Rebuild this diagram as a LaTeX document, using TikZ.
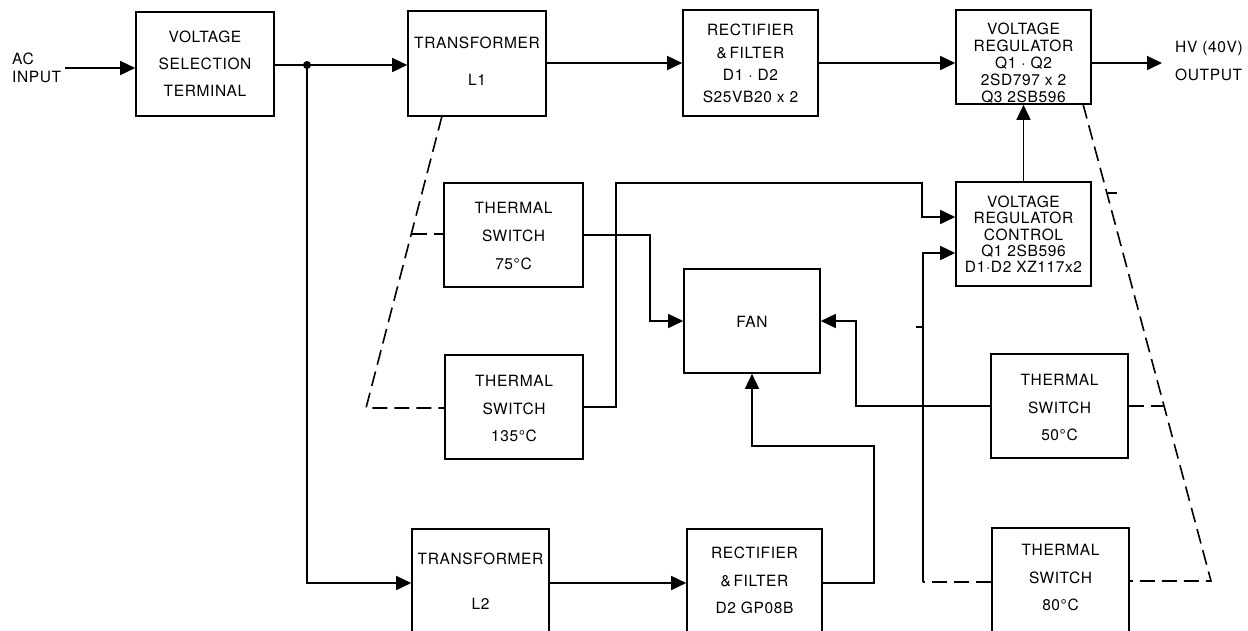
\documentclass[tikz,border=0pt]{standalone}
\usepackage{fontspec}
\setmainfont{TeX Gyre Heros}[LetterSpace=4]
\usetikzlibrary{arrows.meta}
\begin{document}
\begin{tikzpicture}[x=1pt,y=-1pt,
  box/.style={draw,line width=1.6pt,inner sep=0pt},
  txt/.style={align=center,inner sep=0pt},
  ln/.style={line width=1.6pt},
  arr/.style={line width=1.6pt,-{Triangle[length=15pt,width=14pt]}},
  dsh/.style={line width=1.6pt,dash pattern=on 15pt off 7pt},
  tick/.style={line width=2.6pt}]
\useasboundingbox (0,0) rectangle (1248,630);
\clip (0,0) rectangle (1248,630);
\newcommand{\fs}[1]{\fontsize{15.5}{#1}\selectfont}
% boxes
\node[box,minimum width=138,minimum height=104] (vst) at (205,64) {};
\node[box,minimum width=138,minimum height=105] (t1) at (477,63.5) {};
\node[box,minimum width=135,minimum height=106] (r1) at (750.5,63) {};
\node[box,minimum width=135,minimum height=94] (vr) at (1023.5,57) {};
\node[box,minimum width=135,minimum height=104] (vrc) at (1023.5,234) {};
\node[box,minimum width=139,minimum height=104] (ts75) at (513.5,235) {};
\node[box,minimum width=138,minimum height=104] (ts135) at (514,407) {};
\node[box,minimum width=136,minimum height=104] (fan) at (752,321) {};
\node[box,minimum width=137,minimum height=104] (ts50) at (1059.5,406) {};
\node[box,minimum width=137,minimum height=108] (ts80) at (1060.5,582) {};
\node[box,minimum width=137,minimum height=108] (t2) at (480.5,583) {};
\node[box,minimum width=135,minimum height=108] (r2) at (754.5,583) {};
% texts
\node[txt,font=\fs{27}] (vstt) at (205,64) {VOLTAGE\\SELECTION\\TERMINAL};
\node[txt,font=\fs{37}] (t1t) at (477,61.5) {TRANSFORMER\\L1};
\node[txt,font=\fs{22.3}] (r1t) at (750.5,63.7) {RECTIFIER\\\&\,FILTER\\D1 · D2\\S25VB20 x 2};
\node[txt,font=\fs{17}] (vrt) at (1023.5,63) {VOLTAGE\\REGULATOR\\Q1 · Q2\\2SD797 x 2\\Q3 2SB596};
\node[txt,font=\fs{16.3}] (vrct) at (1023.5,234.5) {VOLTAGE\\REGULATOR\\CONTROL\\Q1 2SB596\\D1·D2 XZ117x2};
\node[txt,font=\fs{28}] (ts75t) at (513.5,236) {THERMAL\\SWITCH\\75°C};
\node[txt,font=\fs{27.5}] (ts135t) at (514,408.5) {THERMAL\\SWITCH\\135°C};
\node[txt,font=\fs{20}] (fant) at (752,322) {FAN};
\node[txt,font=\fs{27.5}] (ts50t) at (1059.5,407.5) {THERMAL\\SWITCH\\50°C};
\node[txt,font=\fs{27.5}] (ts80t) at (1060.5,577.5) {THERMAL\\SWITCH\\80°C};
\node[txt,font=\fs{45}] (t2t) at (480.5,581.5) {TRANSFORMER\\L2};
\node[txt,font=\fs{27.5}] (r2t) at (754.5,580.5) {RECTIFIER\\\&\,FILTER\\D2 GP08B};
\node[txt,align=left,anchor=west,font=\fs{18}] (acl) at (12,68) {AC\\INPUT};
\node[txt,align=left,anchor=west,font=\fs{28}] (hvl) at (1175,61) {HV (40V)\\OUTPUT};
% main path
\coordinate (acin) at (65,68);
\draw[arr] (acin) -- (acin -| vst.west);
\coordinate (j) at (307,65);
\draw[ln] (vst.east |- j) -- (j);
\draw[arr] (j) -- (j -| t1.west);
\fill (j) circle (4);
\coordinate (jb) at (307,583);
\draw[arr] (j) -- (jb) -- (jb -| t2.west);
\draw[arr] (t1.east |- r1.west) -- (r1.west);
\draw[arr] (r1.east) -- (r1.east -| vr.west);
\coordinate (out) at (1162,63);
\draw[arr] (out -| vr.east) -- (out);
\draw[arr] (vrc.north) -- (vr.south);
\draw[arr] (t2.east) -- (r2.west);
% thermal switches
\coordinate (b75) at (650,235);
\draw[arr] (ts75.east) -- (b75) |- (fan.west);
\coordinate (b1) at (616,183);
\coordinate (b2) at (922,183);
\coordinate (vin1) at ([yshift=17pt]vrc.west);
\draw[arr] (ts135.east) -| (b1) -- (b2) |- (vin1);
\coordinate (b3) at (923,582);
\coordinate (vin2) at ([yshift=-19pt]vrc.west);
\draw[arr] (b3) |- (vin2);
\draw[dsh] (ts80.west) -- (b3);
\coordinate (b50) at (856,406);
\draw[arr] (ts50.west) -- (b50) |- (fan.east);
\coordinate (b4) at (874,446);
\draw[arr] (r2.east) -| (b4) -| (fan.south);
% dashed thermal couplings
\coordinate (dl1) at (442,116);
\coordinate (dl2) at (366,408);
\coordinate (dl3) at (412,234);
\draw[dsh] (dl1) -- (dl2) -- (dl2 -| ts135.west);
\draw[dsh] (dl3) -- (dl3 -| ts75.west);
\coordinate (dr1) at (1083,104);
\coordinate (dr2) at (1211,581);
\coordinate (dr3) at (1163,406);
\draw[dsh] (dr1) -- (dr2) -- (dr2 -| ts80.east);
\draw[dsh] (ts50.east |- dr3) -- (dr3);
% small marks
\draw[tick] (916,327) -- (922,327);
\draw[tick] (1108,193) -- (1117,193);
\end{tikzpicture}
\end{document}
